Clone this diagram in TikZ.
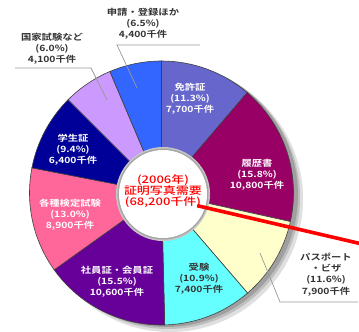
\documentclass[tikz,border=0pt]{standalone}
\usepackage{fontspec}
\newfontfamily\jp[FakeStretch=1.2]{Noto Sans CJK JP Bold}
\newfontfamily\jpc[FakeStretch=1.25]{Noto Sans CJK JP Medium}
\definecolor{cMenkyo}{HTML}{6666CC}
\definecolor{cRireki}{HTML}{990066}
\definecolor{cPass}{HTML}{FFFFCC}
\definecolor{cJuken}{HTML}{66FFFF}
\definecolor{cShain}{HTML}{660099}
\definecolor{cKentei}{HTML}{FF6699}
\definecolor{cGaku}{HTML}{000099}
\definecolor{cKokka}{HTML}{CC99FF}
\definecolor{cShinsei}{HTML}{3366FF}
\definecolor{cLabel}{HTML}{333333}
\begin{document}
\begin{tikzpicture}[x=1pt,y=-1pt,
  slice/.style={draw=black!75, line width=0.6pt},
  lab/.style={align=center, font=\jp\fontsize{8.6}{11.2}\selectfont, inner sep=0pt},
  wlab/.style={lab, text=white},
  dlab/.style={lab, text=cLabel},
  leader/.style={draw=gray!80, line width=0.7pt}]
\useasboundingbox (0,0) rectangle (359,332);
\fill[white] (0,0) rectangle (359,332);
% shadow
\fill[gray!25] (170,199) circle[radius=133];
\fill[gray!50] (168,197) circle[radius=132];
\fill[gray!75] (166,195) circle[radius=132];
% pie
\coordinate (C) at (161.5,193);
\def\R{132}
\filldraw[slice, fill=cMenkyo]  (C) -- ++(-90:\R)  arc[start angle=-90,  end angle=-49.5, radius=\R] -- cycle;
\filldraw[slice, fill=cRireki]  (C) -- ++(-49.5:\R) arc[start angle=-49.5, end angle=12.5, radius=\R] -- cycle;
\filldraw[slice, fill=cPass]    (C) -- ++(12.5:\R) arc[start angle=12.5, end angle=49.3, radius=\R] -- cycle;
\filldraw[slice, fill=cJuken]   (C) -- ++(49.3:\R) arc[start angle=49.3, end angle=88.6, radius=\R] -- cycle;
\filldraw[slice, fill=cShain]   (C) -- ++(88.6:\R) arc[start angle=88.6, end angle=144.4, radius=\R] -- cycle;
\filldraw[slice, fill=cKentei]  (C) -- ++(144.4:\R) arc[start angle=144.4, end angle=191, radius=\R] -- cycle;
\filldraw[slice, fill=cGaku]    (C) -- ++(191:\R) arc[start angle=191, end angle=225, radius=\R] -- cycle;
\filldraw[slice, fill=cKokka]   (C) -- ++(225:\R) arc[start angle=225, end angle=247, radius=\R] -- cycle;
\filldraw[slice, fill=cShinsei] (C) -- ++(247:\R) arc[start angle=247, end angle=270, radius=\R] -- cycle;
% inner hole
\fill[gray!45] (163,194) circle[radius=47];
\fill[gray!70] (163,194) circle[radius=45.5];
\fill[white] (163,194) circle[radius=44];
\node[align=center, text=red, inner sep=0pt, font=\jpc\fontsize{10.4}{11}\selectfont] (center) at (163,191)
  {(2006年)\\証明写真需要\\(68,200千件)};
% slice labels
\node[wlab] (menkyo) at (190,99) {免許証\\(11.3\%)\\7,700千件};
\node[wlab] (rireki) at (257,175) {履歴書\\(15.8\%)\\10,800千件};
\node[dlab] (juken) at (199,279) {受験\\(10.9\%)\\7,400千件};
\node[wlab] (shain) at (117,282) {社員証・会員証\\(15.5\%)\\10,600千件};
\node[wlab] (kentei) at (70,215) {各種検定試験\\(13.0\%)\\8,900千件};
\node[wlab] (gaku) at (73,150) {学生証\\(9.4\%)\\6,400千件};
% outside labels
\node[dlab] (kokka) at (52,49) {国家試験など\\(6.0\%)\\4,100千件};
\node[dlab] (shinsei) at (143,24) {申請・登録ほか\\(6.5\%)\\4,400千件};
\node[dlab] (pass) at (326,274.5) {パスポート\\・ビザ\\(11.6\%)\\7,900千件};
% leaders
\coordinate (kokkaL) at (15,68);
\coordinate (kokkaR) at (91,68);
\coordinate (kokkaP) at (107,100);
\draw[leader] (kokkaL) -- (kokkaR) -- (kokkaP);
\coordinate (shinseiL) at (117,45);
\coordinate (shinseiR) at (200,45);
\coordinate (shinseiP) at (137,88);
\draw[leader] (shinseiR) -- (shinseiL) -- (shinseiP);
\coordinate (passL) at (280,302);
\coordinate (passR) at (358,302);
\coordinate (passP) at (260,253);
\draw[leader] (passR) -- (passL) -- (passP);
% red pointer
\coordinate (redEnd) at (362,244);
\draw[red, line width=3.6pt] (center.south east) ++(-5,-2) -- (redEnd);
\end{tikzpicture}
\end{document}
